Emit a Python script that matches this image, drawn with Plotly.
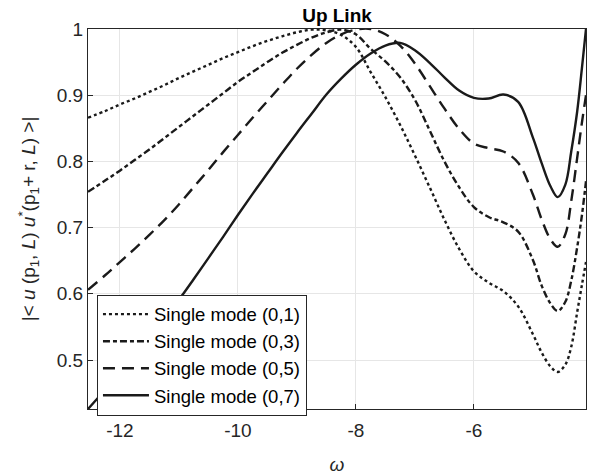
import plotly.graph_objects as go

omega = [-12.54, -12.25, -12.0, -11.75, -11.5, -11.25, -11.0, -10.75, -10.5, -10.25,
         -10.0, -9.75, -9.5, -9.25, -9.0, -8.75, -8.5, -8.25, -8.0, -7.75,
         -7.5, -7.25, -7.0, -6.75, -6.5, -6.25, -6.0, -5.75, -5.5, -5.25,
         -5.0, -4.85, -4.7, -4.58, -4.45, -4.35, -4.25, -4.17, -4.10]

mode_01 = [0.866, 0.876, 0.886, 0.895, 0.905, 0.915, 0.926, 0.936, 0.946, 0.956,
           0.965, 0.974, 0.982, 0.989, 0.995, 0.999, 0.998, 0.991, 0.973, 0.935,
           0.897, 0.855, 0.809, 0.761, 0.712, 0.668, 0.634, 0.617, 0.604, 0.581,
           0.539, 0.511, 0.490, 0.482, 0.493, 0.520, 0.572, 0.613, 0.648]

mode_03 = [0.754, 0.771, 0.786, 0.802, 0.818, 0.835, 0.852, 0.869, 0.886, 0.903,
           0.920, 0.935, 0.950, 0.964, 0.976, 0.987, 0.995, 0.999, 0.992, 0.970,
           0.951, 0.927, 0.893, 0.847, 0.800, 0.761, 0.731, 0.716, 0.708, 0.694,
           0.651, 0.612, 0.585, 0.574, 0.588, 0.620, 0.670, 0.718, 0.770]

mode_05 = [0.606, 0.628, 0.648, 0.668, 0.689, 0.711, 0.735, 0.761, 0.787, 0.814,
           0.840, 0.866, 0.891, 0.916, 0.940, 0.961, 0.979, 0.992, 0.999, 1.000,
           0.992, 0.975, 0.948, 0.914, 0.880, 0.849, 0.827, 0.820, 0.815, 0.798,
           0.750, 0.712, 0.682, 0.671, 0.690, 0.740, 0.805, 0.858, 0.900]

mode_07 = [0.426, 0.455, 0.482, 0.509, 0.536, 0.563, 0.591, 0.622, 0.654, 0.686,
           0.719, 0.751, 0.782, 0.813, 0.843, 0.872, 0.901, 0.925, 0.946, 0.963,
           0.975, 0.979, 0.968, 0.949, 0.927, 0.907, 0.896, 0.895, 0.901, 0.890,
           0.836, 0.797, 0.762, 0.746, 0.765, 0.815, 0.875, 0.940, 1.000]

series_names = ["Single mode (0,1)", "Single mode (0,3)", "Single mode (0,5)", "Single mode (0,7)"]
series_values = [mode_01, mode_03, mode_05, mode_07]
series_dash = ["dot", "7px,3px,4px,3px", "12px,7px", "solid"]

x_ticks = [-12, -10, -8, -6]
x_ticktext = ["-12", "-10", "-8", "-6"]
y_ticks = [0.5, 0.6, 0.7, 0.8, 0.9, 1.0]
y_ticktext = ["0.5", "0.6", "0.7", "0.8", "0.9", "1"]

FONT = "Liberation Sans, Arial, sans-serif"
AXC = "#262626"

fig = go.Figure()
for name, vals, dash in zip(series_names, series_values, series_dash):
    fig.add_trace(go.Scatter(
        x=omega, y=vals, mode="lines", name=name,
        line=dict(color="#1a1a1a", width=2.4, dash=dash, shape="spline", smoothing=1.0),
    ))

fig.update_layout(
    width=589, height=475,
    margin=dict(l=88, r=3, t=29, b=66),
    paper_bgcolor="white", plot_bgcolor="white",
    font=dict(family=FONT, color=AXC, size=19),
    title=dict(text="<b>Up Link</b>", x=0.5, xref="paper", xanchor="center",
               y=1 - 15 / 475, yref="container", yanchor="middle",
               font=dict(size=19, color="#000000", family=FONT)),
    showlegend=True,
    legend=dict(x=0.018, y=0.301, xanchor="left", yanchor="top",
                bgcolor="white", bordercolor=AXC, borderwidth=1,
                font=dict(size=18.5, color="#000000", family=FONT),
                itemwidth=46, tracegroupgap=0),
)

fig.update_xaxes(
    range=[-12.54, -4.10], tickvals=x_ticks, ticktext=x_ticktext,
    showgrid=True, gridcolor="#e6e6e6", gridwidth=1,
    showline=True, linecolor=AXC, linewidth=1, mirror=True,
    ticks="inside", ticklen=5, tickcolor=AXC, zeroline=False,
    tickfont=dict(size=19, color=AXC), ticklabelstandoff=4,
    title=dict(text="<i>ω</i>", font=dict(size=19, color=AXC), standoff=18),
)
fig.update_yaxes(
    range=[0.426, 1.0], tickvals=y_ticks, ticktext=y_ticktext,
    showgrid=True, gridcolor="#e6e6e6", gridwidth=1,
    showline=True, linecolor=AXC, linewidth=1, mirror=True,
    ticks="inside", ticklen=5, tickcolor=AXC, zeroline=False,
    tickfont=dict(size=19, color=AXC),
    title=dict(text="|&lt; <i>u</i> (p<sub>1</sub>, <i>L</i>) <i>u</i><sup>*</sup>(p<sub>1</sub>+ r, <i>L</i>) &gt;|",
               font=dict(size=19, color=AXC), standoff=16),
)

fig.write_html("out.html")
